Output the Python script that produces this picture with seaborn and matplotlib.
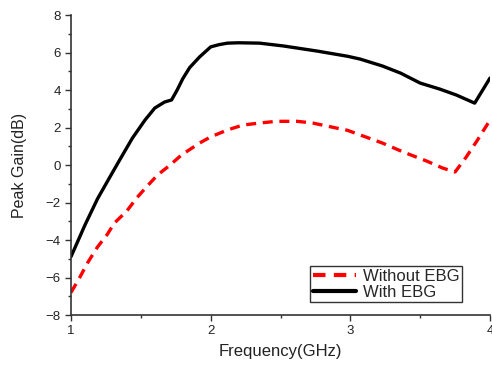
import numpy as np
import pandas as pd
import matplotlib
matplotlib.use("Agg")
import matplotlib.pyplot as plt
import seaborn as sns

freq_with = [1.00, 1.10, 1.19, 1.27, 1.34, 1.44, 1.53, 1.60, 1.67, 1.72, 1.76, 1.80, 1.85,
             1.92, 2.00, 2.06, 2.12, 2.20, 2.35, 2.52, 2.76, 2.98, 3.07, 3.23, 3.36, 3.50,
             3.64, 3.76, 3.89, 4.00]
gain_with = [-4.89, -3.2, -1.8, -0.75, 0.16, 1.44, 2.4, 3.04, 3.36, 3.47, 4.0, 4.6, 5.2,
             5.76, 6.3, 6.42, 6.5, 6.52, 6.5, 6.35, 6.08, 5.8, 5.65, 5.28, 4.9, 4.37,
             4.05, 3.73, 3.3, 4.64]

freq_without = [1.00, 1.06, 1.12, 1.19, 1.26, 1.31, 1.40, 1.47, 1.54, 1.62, 1.71, 1.79,
                1.92, 2.00, 2.12, 2.23, 2.35, 2.47, 2.62, 2.73, 2.85, 2.98, 3.09, 3.23,
                3.38, 3.55, 3.66, 3.75, 3.83, 3.91, 4.00]
gain_without = [-6.8, -6.03, -5.2, -4.37, -3.7, -3.1, -2.45, -1.76, -1.17, -0.53, 0.0, 0.53,
                1.17, 1.5, 1.87, 2.13, 2.24, 2.33, 2.33, 2.24, 2.05, 1.85, 1.55, 1.17,
                0.69, 0.2, -0.16, -0.37, 0.43, 1.33, 2.4]

labels = ["Without EBG", "With EBG"]

df = pd.concat([
    pd.DataFrame({"Frequency": freq_without, "Gain": gain_without, "Series": labels[0]}),
    pd.DataFrame({"Frequency": freq_with, "Gain": gain_with, "Series": labels[1]}),
])

sns.set_style("ticks")
plt.rcParams["font.family"] = ["Liberation Sans", "DejaVu Sans"]

fig = plt.figure(figsize=(4.92, 3.69), dpi=100)
ax = fig.add_axes([0.1443, 0.1463, 0.8517, 0.813])

sns.lineplot(data=df, x="Frequency", y="Gain", hue="Series", style="Series",
             palette={labels[0]: "#ff0000", labels[1]: "#000000"},
             dashes={labels[0]: (3, 2), labels[1]: ""},
             linewidth=2.4, ax=ax, sort=False)
for ln in ax.get_lines():
    ln.set_solid_joinstyle("round")
    ln.set_dash_capstyle("butt")

ax.set_xlim(1, 4)
ax.set_ylim(-8, 8)
ax.set_xticks([1, 2, 3, 4])
ax.set_xticks([1.5, 2.5, 3.5], minor=True)
ax.set_yticks(range(-8, 9, 2))
ax.set_yticks(range(-7, 8, 2), minor=True)
ax.tick_params(axis="both", which="major", direction="out", length=4, width=1,
               labelsize=9.5, colors="#333333", labelcolor="#222222")
ax.tick_params(axis="both", which="minor", direction="out", length=2.5, width=1, colors="#333333")
for s in ["top", "right"]:
    ax.spines[s].set_visible(False)
for s in ["left", "bottom"]:
    ax.spines[s].set_color("#333333")
    ax.spines[s].set_linewidth(1.2)

ax.set_xlabel("Frequency(GHz)", fontsize=12, color="#222222")
ax.set_ylabel("Peak Gain(dB)", fontsize=11.5, color="#222222")
ax.xaxis.set_label_coords(0.5, -0.097)
ax.yaxis.set_label_coords(-0.105, 0.5)

leg = ax.legend(loc="lower right", bbox_to_anchor=(0.933, 0.043), frameon=True, fancybox=False,
                fontsize=12, handlelength=2.6, borderpad=0.15, labelspacing=0.05,
                handletextpad=0.4, borderaxespad=0)
leg.get_frame().set_edgecolor("#000000")
leg.get_frame().set_linewidth(1.0)
for h in leg.get_lines():
    h.set_linewidth(3)

fig.savefig("out.png", dpi=100)
